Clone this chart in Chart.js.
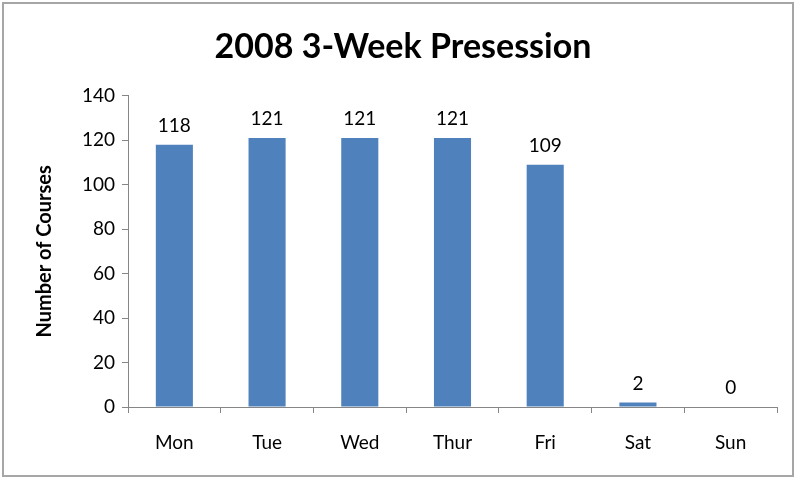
<!DOCTYPE html>
<html>
<head>
    <title>2008 3-Week Presession</title>
    <script src="https://cdn.jsdelivr.net/npm/chart.js"></script>
    <style>
        body { margin: 0; background: #fff; }
        #wrap { position: relative; width: 795px; height: 478px; }
        #frame { position: absolute; left: 2px; top: 2px; width: 788px; height: 471px; border: 2px solid #a6a6a6; pointer-events: none; }
        canvas { position: absolute; left: 0; top: 0; }
    </style>
</head>
<body>
    <div id="wrap">
        <canvas id="chart" width="795" height="478"></canvas>
        <div id="frame"></div>
    </div>

    <script>
        // Données du graphique
        const days = ['Mon', 'Tue', 'Wed', 'Thur', 'Fri', 'Sat', 'Sun'];
        const courses = [118, 121, 121, 121, 109, 2, 0];
        const yTicks = [0, 20, 40, 60, 80, 100, 120, 140];

        const axisColor = '#868686';
        const fontFamily = 'Lato, "Open Sans", sans-serif';

        // Petit plugin pour écrire la valeur au-dessus de chaque barre
        const valueLabels = {
            id: 'valueLabels',
            afterDatasetsDraw(chart) {
                const ctx = chart.ctx;
                const meta = chart.getDatasetMeta(0);
                ctx.save();
                ctx.font = '19px ' + fontFamily;
                ctx.fillStyle = '#000';
                ctx.textAlign = 'center';
                ctx.textBaseline = 'alphabetic';
                meta.data.forEach((bar, i) => {
                    ctx.fillText(String(courses[i]), bar.x, bar.y - 13);
                });
                ctx.restore();
            }
        };

        const ctx = document.getElementById('chart').getContext('2d');
        new Chart(ctx, {
            type: 'bar',
            data: {
                labels: days,
                datasets: [{
                    label: 'Number of Courses',
                    data: courses,
                    backgroundColor: '#4f81bd',
                    barPercentage: 0.4,
                    categoryPercentage: 1
                }]
            },
            options: {
                responsive: false,
                animation: false,
                layout: { padding: { left: 29, right: 18, top: 20, bottom: 25 } },
                plugins: {
                    legend: { display: false },
                    tooltip: { enabled: false },
                    title: {
                        display: true,
                        text: '2008 3-Week Presession',
                        color: '#000',
                        font: { family: fontFamily, size: 34, weight: 'bold' },
                        padding: { top: 7, bottom: 28 }
                    }
                },
                scales: {
                    x: {
                        grid: { drawOnChartArea: false, drawTicks: true, tickLength: 6, color: axisColor },
                        border: { color: axisColor },
                        ticks: { color: '#000', padding: 18, font: { family: fontFamily, size: 19 } },
                        afterFit(scale) { scale.height = 478 - 407 - 25; }
                    },
                    y: {
                        min: 0,
                        max: 140,
                        afterBuildTicks(scale) { scale.ticks = yTicks.map(v => ({ value: v })); },
                        grid: { drawOnChartArea: false, drawTicks: true, tickLength: 6, color: axisColor },
                        border: { color: axisColor },
                        ticks: { color: '#000', padding: 7, font: { family: fontFamily, size: 19 } },
                        title: {
                            display: true,
                            text: 'Number of Courses',
                            color: '#000',
                            font: { family: fontFamily, size: 20, weight: 'bold' }
                        },
                        afterFit(scale) { scale.width = 128 - 29; }
                    }
                }
            },
            plugins: [valueLabels]
        });
    </script>
</body>
</html>
